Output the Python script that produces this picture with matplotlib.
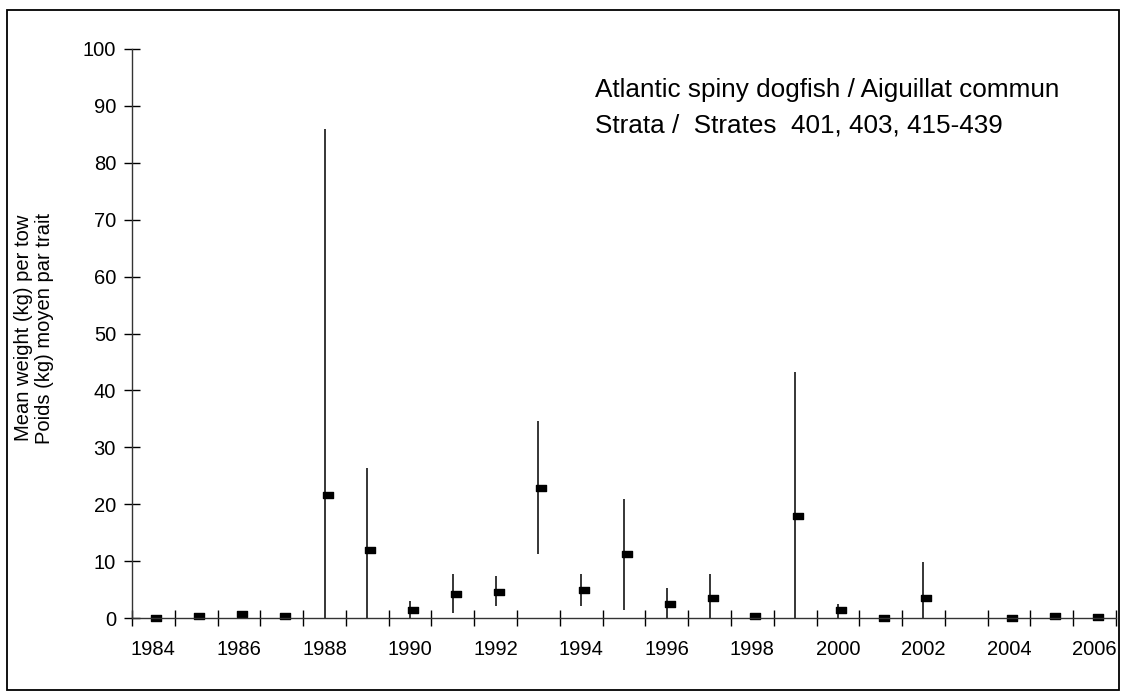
import numpy as np
import matplotlib
matplotlib.use("Agg")
import matplotlib.pyplot as plt
from matplotlib.path import Path
from matplotlib.patches import Rectangle
from matplotlib.transforms import ScaledTranslation

plt.rcParams['font.family'] = ['Liberation Sans', 'DejaVu Sans']

nan = np.nan
years = list(range(1984, 2007))
mean_wt = [0.05, 0.4, 0.7, 0.4, 21.7, 12.0, 1.4, 4.3, 4.6, 22.8, 4.9, 11.2,
           2.5, 3.5, 0.35, 17.9, 1.4, 0.05, 3.5, nan, 0.05, 0.4, 0.1]
upper = [nan, nan, nan, nan, 85.9, 26.3, 2.9, 7.7, 7.4, 34.7, 7.7, 21.0,
         5.2, 7.7, nan, 43.3, 2.5, nan, 9.8, nan, nan, nan, nan]
lower = [nan, nan, nan, nan, 0, 0, 0, 0.8, 2.1, 11.2, 2.1, 1.4,
         0, 0, nan, 0, 0, nan, 0, nan, nan, nan, nan]
year_labels = [str(y) for y in years[::2]]

fig = plt.figure(figsize=(11.25, 7), dpi=100)
ax = fig.add_axes([132/1125, 1 - 618/700, 984/1125, 569/700])

# outer frame
fig.patches.append(Rectangle((7/1125, 1 - 690/700), 1112/1125, 680/700,
                             transform=fig.transFigure, fill=False,
                             edgecolor='black', linewidth=1.3))

ax.vlines(years, lower, upper, color='black', linewidth=1.1)

rect = Path([(-1, -0.75), (1, -0.75), (1, 0.75), (-1, 0.75), (-1, -0.75)],
            [Path.MOVETO, Path.LINETO, Path.LINETO, Path.LINETO, Path.CLOSEPOLY])
shift = ax.transData + ScaledTranslation(3/100, 0, fig.dpi_scale_trans)
ax.plot(years, mean_wt, linestyle='none', marker=rect, markersize=6.5,
        color='black', transform=shift, clip_on=False)

ax.set_xlim(1983.5, 2006.5)
ax.set_ylim(0, 100)

for s in ['top', 'right']:
    ax.spines[s].set_visible(False)
for s in ['left', 'bottom']:
    ax.spines[s].set_color('#333333')
    ax.spines[s].set_linewidth(1.0)

ax.set_xticks(np.arange(1983.5, 2007, 1))
ax.set_xticklabels([])
ax.set_xticks(years[::2], minor=True)
ax.set_xticklabels(year_labels, minor=True)
ax.tick_params(axis='x', which='major', direction='inout', length=11, width=1, color='black')
ax.tick_params(axis='x', which='minor', length=0, pad=16, labelsize=14.5)

ax.set_yticks(np.arange(0, 101, 10))
ax.tick_params(axis='y', direction='inout', length=11, width=1, color='black',
               pad=6, labelsize=14.5)

fig.text(24/1125, 1 - 328/700, 'Mean weight (kg) per tow', rotation=90,
         ha='center', va='center', fontsize=14.5)
fig.text(45/1125, 1 - 328/700, 'Poids (kg) moyen par trait', rotation=90,
         ha='center', va='center', fontsize=14.5)

ax.text(595/1125, 1 - 90/700, 'Atlantic spiny dogfish / Aiguillat commun',
        transform=fig.transFigure, ha='left', va='center', fontsize=18.8)
ax.text(595/1125, 1 - 125/700, 'Strata /  Strates  401, 403, 415-439',
        transform=fig.transFigure, ha='left', va='center', fontsize=18.8)

fig.savefig('out.png', dpi=100)
